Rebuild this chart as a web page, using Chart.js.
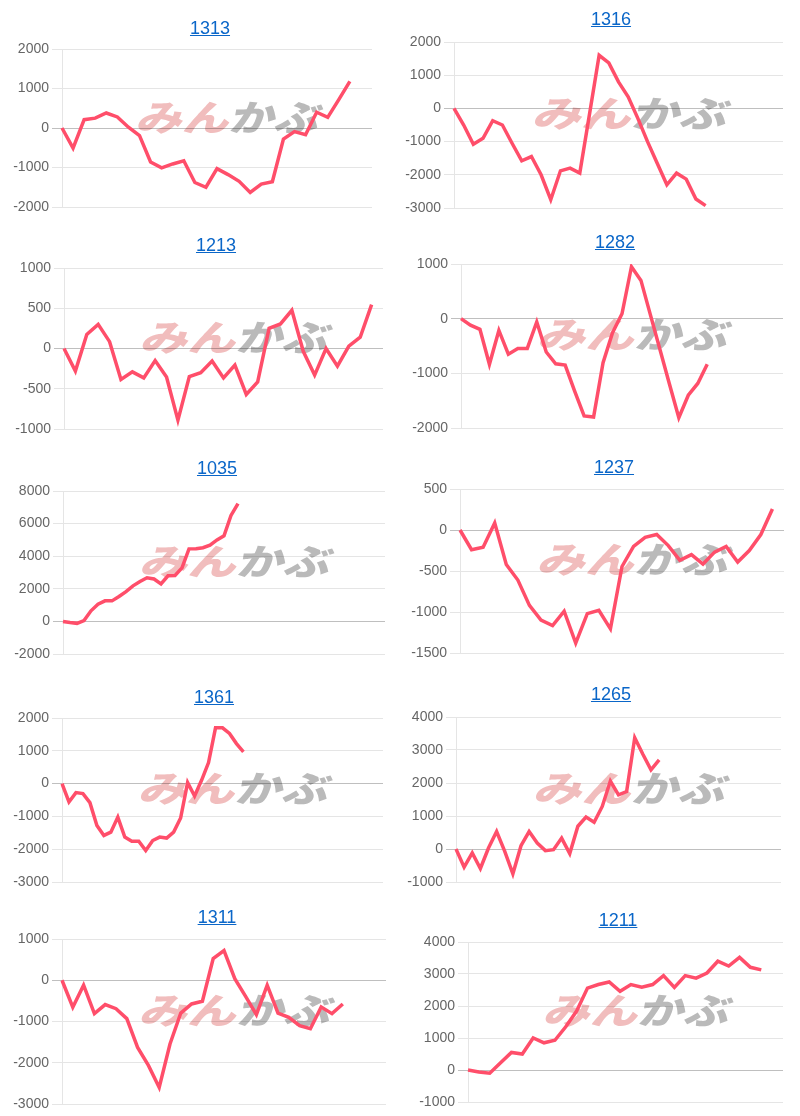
<!DOCTYPE html>
<html><head><meta charset="utf-8">
<script src="https://cdn.jsdelivr.net/npm/chart.js@4.4.1/dist/chart.umd.min.js"></script>
<style>
html,body{margin:0;padding:0;background:#fff;width:800px;height:1116px;overflow:hidden;position:relative;font-family:"Liberation Sans",Arial,Helvetica,sans-serif}
.t{position:absolute;transform:translate(-50%,-50%);color:#0a66c8;font-size:18px;text-decoration:underline;white-space:nowrap;line-height:1;cursor:pointer}
canvas{position:absolute}
</style></head><body>
<script>
// ---- data ----
const stockCodes = ['1313','1316','1213','1282','1035','1237','1361','1265','1311','1211'];

const values1313 = [0,-510,210,250,380,280,20,-190,-860,-1010,-910,-830,-1380,-1500,-1030,-1180,-1350,-1630,-1420,-1360,-280,-90,-170,400,270,720,1180];
const values1316 = [0,-500,-1080,-900,-370,-500,-1050,-1580,-1450,-2000,-2750,-1880,-1800,-1950,-180,1600,1370,800,350,-300,-1000,-1650,-2300,-1950,-2130,-2730,-2930];
const values1213 = [0,-280,175,300,85,-385,-290,-365,-150,-355,-890,-350,-300,-155,-365,-205,-570,-415,250,305,475,-35,-330,0,-220,30,140,545];
const values1282 = [0,-120,-195,-835,-215,-650,-545,-545,-60,-610,-825,-850,-1325,-1780,-1800,-805,-255,90,950,700,70,-560,-1190,-1810,-1400,-1185,-835];
const values1035 = [0,-70,-120,50,650,1050,1260,1260,1530,1830,2180,2450,2680,2600,2300,2800,2820,3280,4450,4460,4520,4680,5000,5250,6500,7230];
const values1237 = [0,-240,-210,85,-420,-610,-920,-1100,-1165,-990,-1380,-1020,-980,-1205,-445,-200,-90,-55,-190,-370,-300,-415,-270,-200,-390,-250,-55,255];
const values1361 = [0,-560,-275,-305,-580,-1275,-1580,-1480,-1020,-1630,-1755,-1755,-2040,-1735,-1630,-1660,-1480,-1050,30,-380,100,640,1700,1700,1530,1220,970];
const values1265 = [0,-550,-120,-590,30,530,-70,-750,100,530,180,-50,-20,330,-140,690,970,810,1290,2060,1640,1740,3370,2870,2400,2700];
const values1311 = [0,-655,-120,-810,-590,-690,-930,-1630,-2065,-2600,-1545,-795,-575,-510,525,720,40,-390,-835,-120,-795,-900,-1100,-1175,-650,-810,-575];
const values1211 = [0,-60,-100,230,550,500,1000,850,930,1350,1840,2560,2670,2750,2460,2670,2590,2670,2950,2580,2950,2870,3030,3400,3250,3520,3210,3130];

const seriesValues = [values1313,values1316,values1213,values1282,values1035,values1237,values1361,values1265,values1311,values1211];
// number of (hidden) category labels on each x axis
const labelCounts = [29,35,29,35,47,29,47,41,31,30];
// y tick ranges
const yMins  = [-2000,-3000,-1000,-2000,-2000,-1500,-3000,-1000,-3000,-1000];
const yMaxs  = [ 2000, 2000, 1000, 1000, 8000,  500, 2000, 4000, 1000, 4000];
const ySteps = [ 1000, 1000,  500, 1000, 2000,  500, 1000, 1000, 1000, 1000];

// ---- layout (plot boxes: left, top, right, bottom) ----
const plotBoxes = [
  [62,49,372,207],[454,42,783,208],
  [64,268,383,429],[461,264,783,428],
  [63,491,385,654],[460,489,784,653],
  [62,718,383,882],[456,717,781,882],
  [62,939,386,1104],[468,942,783,1102]
];
const titlePos = [[210,28],[611,19],[216,245],[615,242],[217,468],[614,467],[214,697],[611,694],[217,917],[618,920]];

const LINE = 'rgb(255,78,106)';
const YW = 60, PT = 14, PB = 14, PR = 4;

const watermark = {
  id: 'wm',
  beforeDraw(chart) {
    const a = chart.chartArea, ctx = chart.ctx;
    const w = a.right - a.left, h = a.bottom - a.top;
    const x0 = a.left + 0.235 * w, x1 = a.left + 0.85 * w;
    const cy = a.top + 0.43 * h;
    const half = (x1 - x0) / 2;
    function part(txt, col, x, tw) {
      ctx.save();
      ctx.font = '900 40px "Noto Sans CJK JP"';
      ctx.textBaseline = 'middle';
      const m = ctx.measureText(txt).width;
      ctx.translate(x, cy);
      ctx.transform(1, 0, -0.28, 1, 0, 0);
      ctx.scale(tw / m, 0.9);
      ctx.fillStyle = col;
      ctx.fillText(txt, 0, 0);
      ctx.restore();
    }
    part('みん', '#f1bdbd', x0 + 4, half - 2);
    part('かぶ', '#bababa', x0 + half + 2, half - 6);
  }
};

seriesValues.forEach((vals, i) => {
  const [pl, pt, pr, pb] = plotBoxes[i];
  const cv = document.createElement('canvas');
  const W = (pr - pl) + YW + PR, H = (pb - pt) + PT + PB;
  cv.width = W; cv.height = H;
  cv.style.left = (pl - YW) + 'px';
  cv.style.top = (pt - PT) + 'px';
  cv.style.width = W + 'px'; cv.style.height = H + 'px';
  document.body.appendChild(cv);

  const a = document.createElement('a');
  a.className = 't';
  a.textContent = stockCodes[i];
  a.style.left = titlePos[i][0] + 'px';
  a.style.top = titlePos[i][1] + 'px';
  document.body.appendChild(a);

  const labels = Array.from({length: labelCounts[i]}, (_, k) => String(k + 1));
  new Chart(cv, {
    type: 'line',
    data: { labels, datasets: [{ data: vals, borderColor: LINE, borderWidth: 3.5, pointRadius: 0, fill: false, tension: 0 }] },
    options: {
      responsive: false, animation: false, events: [],
      layout: { padding: { top: PT, bottom: PB, left: 0, right: PR } },
      plugins: { legend: { display: false }, tooltip: { enabled: false } },
      scales: {
        x: { display: false },
        y: {
          min: yMins[i], max: yMaxs[i],
          ticks: { stepSize: ySteps[i], color: '#666', padding: 3, callback: v => String(v), font: { size: 14, family: '"Liberation Sans", Arial, Helvetica, sans-serif' } },
          grid: { color: c => (c.tick && c.tick.value === 0) ? 'rgba(0,0,0,0.25)' : 'rgba(0,0,0,0.1)', tickLength: 10 },
          border: { color: 'rgba(0,0,0,0.1)' },
          afterFit: s => { s.width = YW; }
        }
      }
    },
    plugins: [watermark]
  });
});
</script>
</body></html>
